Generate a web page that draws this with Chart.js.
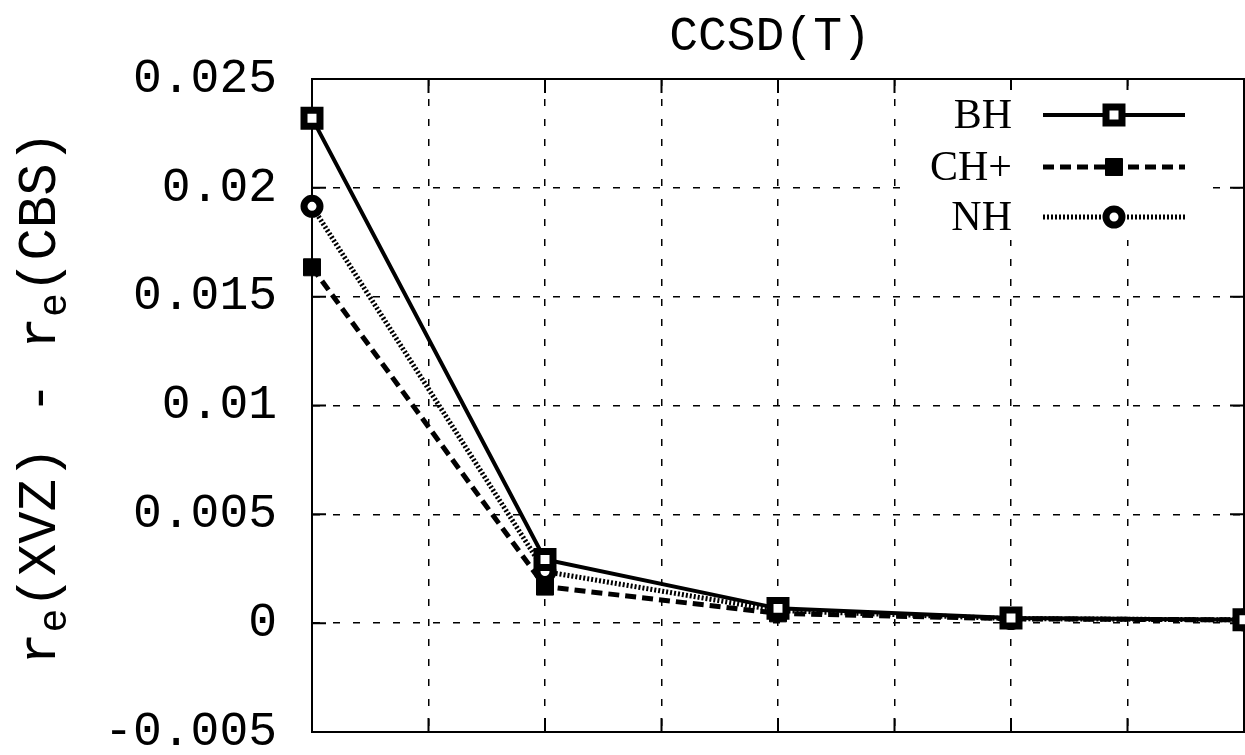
<!DOCTYPE html>
<html>
<head>
<meta charset="utf-8">
<script src="https://cdn.jsdelivr.net/npm/chart.js@4/dist/chart.umd.min.js"></script>
<style>
  html, body { margin: 0; padding: 0; background: #fff; overflow: hidden; }
  #wrap { width: 1245px; height: 755px; position: relative; }
</style>
</head>
<body>
<div id="wrap"><canvas id="c" width="1245" height="755"></canvas></div>
<script>
// ---- data ----
const basisX = [2, 3, 4, 5, 6];
const bhValues  = [0.0232, 0.00293, 0.00068, 0.00024, 0.00016];
const chpValues = [0.01635, 0.00168, 0.00045, 0.00020, 0.00015];
const nhValues  = [0.01915, 0.00237, 0.00058, 0.00021, 0.00015];
const seriesNames = ['BH', 'CH+', 'NH'];
const yTickValues = [-0.005, 0, 0.005, 0.01, 0.015, 0.02, 0.025];
const yTickLabels = ['-0.005', '0', '0.005', '0.01', '0.015', '0.02', '0.025'];
const titleText = 'CCSD(T)';

const toPts = (vals) => vals.map((v, i) => ({ x: basisX[i], y: v }));

const styles = [
  { dash: [], width: 4, pstyle: 'rect', r: 11.3, fill: '#fff', bw: 7 },
  { dash: [11, 6], width: 5, pstyle: 'rect', r: 12, fill: '#000', bw: 1 },
  { dash: [2, 2], width: 5, pstyle: 'circle', r: 8, fill: '#fff', bw: 7 }
];
const values = [bhValues, chpValues, nhValues];

const datasets = seriesNames.map((name, k) => ({
  label: name,
  data: toPts(values[k]),
  borderColor: '#000',
  borderWidth: styles[k].width,
  borderDash: styles[k].dash,
  borderCapStyle: 'butt',
  pointStyle: styles[k].pstyle,
  pointRadius: styles[k].r,
  pointHoverRadius: styles[k].r,
  pointBackgroundColor: styles[k].fill,
  pointBorderColor: '#000',
  pointBorderWidth: styles[k].bw,
  tension: 0,
  fill: false,
  clip: false
}));

const MONO = '"Liberation Mono", "DejaVu Sans Mono", monospace';
const SERIF = '"Liberation Serif", "DejaVu Serif", serif';

function drawMarker(ctx, st, x, y) {
  ctx.save();
  ctx.setLineDash([]);
  ctx.lineWidth = st.bw;
  ctx.strokeStyle = '#000';
  ctx.fillStyle = st.fill;
  ctx.beginPath();
  if (st.pstyle === 'rect') {
    const s = Math.SQRT1_2 * st.r;
    ctx.rect(x - s, y - s, 2 * s, 2 * s);
  } else {
    ctx.arc(x, y, st.r, 0, Math.PI * 2);
  }
  ctx.fill();
  ctx.stroke();
  ctx.restore();
}

const framePlugin = {
  id: 'frame',
  beforeDatasetsDraw(chart) {
    const { ctx, chartArea: a, scales } = chart;
    ctx.save();
    ctx.strokeStyle = '#000';
    ctx.lineWidth = 2;
    ctx.setLineDash([]);
    ctx.strokeRect(a.left, a.top, a.right - a.left, a.bottom - a.top);
    const tl = 14;
    ctx.beginPath();
    scales.y.ticks.forEach(t => {
      const py = scales.y.getPixelForValue(t.value);
      ctx.moveTo(a.left, py); ctx.lineTo(a.left + tl, py);
      ctx.moveTo(a.right, py); ctx.lineTo(a.right - tl, py);
    });
    scales.x.ticks.forEach(t => {
      const px = scales.x.getPixelForValue(t.value);
      ctx.moveTo(px, a.bottom); ctx.lineTo(px, a.bottom - tl);
      ctx.moveTo(px, a.top); ctx.lineTo(px, a.top + tl);
    });
    ctx.stroke();
    ctx.restore();
  },
  afterDatasetsDraw(chart) {
    const { ctx, chartArea: a } = chart;
    ctx.save();
    // title
    ctx.fillStyle = '#000';
    ctx.font = '48px ' + MONO;
    ctx.textAlign = 'center';
    ctx.textBaseline = 'alphabetic';
    ctx.fillText(titleText, (a.left + a.right) / 2 - 8, 50);

    // y axis label with subscripts, rotated
    const segs = [['r', 0], ['e', 1], ['(XVZ) - r', 0], ['e', 1], ['(CBS)', 0]];
    ctx.translate(55, 665);
    ctx.rotate(-Math.PI / 2);
    ctx.textAlign = 'left';
    let cx = 0;
    segs.forEach(([s, sub]) => {
      ctx.font = (sub ? '40px ' : '54px ') + MONO;
      ctx.fillText(s, cx, sub ? 11 : 0);
      cx += ctx.measureText(s).width;
    });
    ctx.restore();

    // legend
    ctx.save();
    ctx.fillStyle = '#fff';
    ctx.fillRect(902, 90, 303, 150);
    const rows = [115, 167, 217];
    seriesNames.forEach((name, k) => {
      const y = rows[k];
      ctx.fillStyle = '#000';
      ctx.font = '42px ' + SERIF;
      ctx.textAlign = 'right';
      ctx.textBaseline = 'middle';
      ctx.fillText(name, 1012, y + 2);
      ctx.save();
      ctx.strokeStyle = '#000';
      ctx.lineWidth = styles[k].width;
      ctx.setLineDash(styles[k].dash);
      ctx.lineCap = 'butt';
      ctx.beginPath();
      ctx.moveTo(1043, y); ctx.lineTo(1185, y);
      ctx.stroke();
      ctx.restore();
      drawMarker(ctx, styles[k], 1114, y);
    });
    ctx.restore();
  }
};

new Chart(document.getElementById('c'), {
  type: 'line',
  data: { datasets },
  options: {
    responsive: false,
    animation: false,
    events: [],
    layout: { autoPadding: false, padding: { top: 79, right: 1, bottom: 0, left: 0 } },
    plugins: { legend: { display: false }, title: { display: false }, tooltip: { enabled: false } },
    scales: {
      x: {
        type: 'linear',
        min: 2, max: 6,
        ticks: { display: false, stepSize: 0.5 },
        grid: { color: '#000', lineWidth: 1.5, drawTicks: false },
        border: { display: true, color: '#000', width: 2, dash: [7, 13] },
        afterFit(s) { s.height = 23; s.paddingLeft = 0; s.paddingRight = 0; }
      },
      y: {
        type: 'linear',
        min: -0.005, max: 0.025,
        afterBuildTicks(s) { s.ticks = yTickValues.map(v => ({ value: v })); },
        ticks: {
          color: '#000',
          font: { family: MONO, size: 48 },
          padding: 35,
          callback: (v) => {
            const i = yTickValues.findIndex(t => Math.abs(t - v) < 1e-9);
            return i >= 0 ? yTickLabels[i] : '';
          }
        },
        grid: { color: '#000', lineWidth: 1.5, drawTicks: false },
        border: { display: true, color: '#000', width: 2, dash: [7, 13] },
        afterFit(s) { s.width = 312; s.paddingTop = 0; s.paddingBottom = 0; }
      }
    }
  },
  plugins: [framePlugin]
});
</script>
</body>
</html>
